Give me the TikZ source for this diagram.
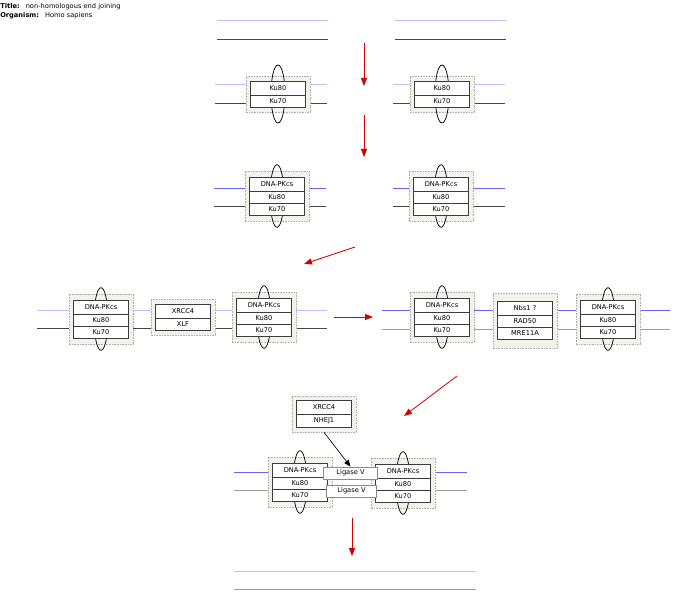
\documentclass[tikz,border=0pt]{standalone}
\usepackage{fontspec}
\setmainfont{DejaVu Sans}
\setsansfont{DejaVu Sans}
\usepackage{tikz}
\usetikzlibrary{arrows.meta,positioning,shapes.geometric,shapes.multipart}
\definecolor{boxfill}{RGB}{243,243,235}
\definecolor{boxline}{RGB}{175,175,170}
\definecolor{protline}{RGB}{60,60,60}
\definecolor{ligline}{RGB}{140,140,140}
\definecolor{paleblue}{RGB}{188,188,255}
\definecolor{midblue}{RGB}{100,100,250}
\definecolor{darkstrand}{RGB}{70,70,70}
\definecolor{greystrand}{RGB}{160,160,160}
\definecolor{stepred}{RGB}{208,0,0}
\tikzset{
  % Komplex-Rahmen
  cplx/.style={draw=boxline, line width=0.5pt, dash pattern=on 1.2pt off 0.8pt, fill=boxfill,
    minimum width=48pt, minimum height=27pt, inner sep=0pt},
  cplxtall/.style={cplx, minimum height=37.5pt},
  ring/.style={draw=black, line width=0.55pt, ellipse, minimum width=10.5pt,
    minimum height=43.5pt, inner sep=0pt},
  ringtall/.style={ring, minimum height=47pt},
  % Proteine
  stack/.style={draw=protline, line width=0.6pt, fill=white, rectangle split,
    rectangle split parts=2, minimum width=41pt, inner xsep=2pt, inner ysep=2.3pt,
    text height=4.2pt, text depth=1.2pt},
  stacktall/.style={stack, rectangle split parts=3},
  ligbox/.style={draw=ligline, line width=0.6pt, fill=white, minimum width=41pt,
    minimum height=9pt, inner sep=0pt},
  % DNA
  topstrand/.style={line width=0.75pt},
  botstrand/.style={line width=0.7pt},
  stepflow/.style={draw=stepred, line width=0.6pt, -{Triangle[length=6pt,width=4.5pt]}},
  bindflow/.style={draw=black, line width=0.5pt, -{Triangle[length=5pt,width=4pt]}}
}
\begin{document}
\begin{tikzpicture}[x=0.75pt, y=-0.75pt, font=\sffamily\fontsize{5}{6}\selectfont]
  \useasboundingbox (0,0) rectangle (681,599);

  \node[anchor=west, inner sep=0pt] (title) at (0,7)
    {\textbf{Title:}\hspace{4.5pt}non-homologous end joining};
  \node[anchor=west, inner sep=0pt] (organism) at (0,16)
    {\textbf{Organism:}\hspace{4.5pt}Homo sapiens};

  % Bruch
  \draw[topstrand, paleblue] (217,21) -- (328,21);
  \draw[botstrand, darkstrand] (217,39) -- (328,39);
  \draw[topstrand, paleblue] (395,21) -- (506,21);
  \draw[botstrand, darkstrand] (395,39) -- (506,39);

  % Ku bindet
  \draw[topstrand, paleblue] (215,85) -- (327,85);
  \draw[botstrand, darkstrand] (215,103) -- (327,103);
  \draw[topstrand, paleblue] (393,85) -- (505,85);
  \draw[botstrand, darkstrand] (393,103) -- (505,103);
  \node[cplx] (kuL) at (278,94) {};
  \node[ring] (kuLring) at (kuL.center) {};
  \node[stack] (kuLs) at (kuL.center) {Ku80\nodepart{two}Ku70};
  \node[cplx] (kuR) at (442,94) {};
  \node[ring] (kuRring) at (kuR.center) {};
  \node[stack] (kuRs) at (kuR.center) {Ku80\nodepart{two}Ku70};

  % DNA-PKcs
  \draw[topstrand, midblue] (214,188) -- (326,188);
  \draw[botstrand, darkstrand] (214,206) -- (326,206);
  \draw[topstrand, midblue] (393,188) -- (505,188);
  \draw[botstrand, darkstrand] (393,206) -- (505,206);
  \node[cplxtall] (pkL) at (277,196) {};
  \node[ringtall] (pkLring) at (pkL.center) {};
  \node[stacktall] (pkLs) at (pkL.center) {DNA-PKcs\nodepart{two}Ku80\nodepart{three}Ku70};
  \node[cplxtall] (pkR) at (441,196) {};
  \node[ringtall] (pkRring) at (pkR.center) {};
  \node[stacktall] (pkRs) at (pkR.center) {DNA-PKcs\nodepart{two}Ku80\nodepart{three}Ku70};

  % Synapse mit XRCC4/XLF
  \draw[topstrand, paleblue] (37,310) -- (327,310);
  \draw[botstrand, darkstrand] (37,328) -- (327,328);
  \node[cplxtall] (synA) at (101,319) {};
  \node[ringtall] (synAring) at (synA.center) {};
  \node[stacktall] (synAs) at (synA.center) {DNA-PKcs\nodepart{two}Ku80\nodepart{three}Ku70};
  \node[cplx] (xlf) at (183,317) {};
  \node[stack] (xlfs) at (xlf.center) {XRCC4\nodepart{two}XLF};
  \node[cplxtall] (synB) at (264,317) {};
  \node[ringtall] (synBring) at (synB.center) {};
  \node[stacktall] (synBs) at (synB.center) {DNA-PKcs\nodepart{two}Ku80\nodepart{three}Ku70};

  % Synapse mit MRN
  \draw[topstrand, midblue] (382,310) -- (670,310);
  \draw[botstrand, greystrand] (382,329) -- (670,329);
  \node[cplxtall] (synC) at (442,317) {};
  \node[ringtall] (synCring) at (synC.center) {};
  \node[stacktall] (synCs) at (synC.center) {DNA-PKcs\nodepart{two}Ku80\nodepart{three}Ku70};
  \node[cplxtall, minimum height=41pt] (mrn) at (525,321) {};
  \node[stacktall] (mrns) at (525,320) {Nbs1 ?\nodepart{two}RAD50\nodepart{three}MRE11A};
  \node[cplxtall] (synD) at (608,319) {};
  \node[ringtall] (synDring) at (synD.center) {};
  \node[stacktall] (synDs) at (synD.center) {DNA-PKcs\nodepart{two}Ku80\nodepart{three}Ku70};

  % Ligation
  \draw[topstrand, midblue] (234,472) -- (467,472);
  \draw[botstrand, greystrand] (234,490) -- (467,490);
  \node[cplx] (xrcc) at (324,414) {};
  \node[stack] (xrccs) at (xrcc.center) {XRCC4\nodepart{two}NHEJ1};
  \node[cplxtall] (ligE) at (300,482) {};
  \node[ringtall] (ligEring) at (ligE.center) {};
  \node[stacktall] (ligEs) at (ligE.center) {DNA-PKcs\nodepart{two}Ku80\nodepart{three}Ku70};
  \node[cplxtall] (ligF) at (403,483) {};
  \node[ringtall] (ligFring) at (ligF.center) {};
  \node[stacktall] (ligFs) at (ligF.center) {DNA-PKcs\nodepart{two}Ku80\nodepart{three}Ku70};
  \node[ligbox] (ligA) at (350.5,473) {Ligase V};
  \node[ligbox, minimum width=38pt] (ligB) at (351.5,491) {Ligase V};
  \draw[bindflow] (xrcc.south) -- (ligA.north);

  % repariert
  \draw[topstrand, paleblue] (234,571) -- (476,571);
  \draw[botstrand, greystrand] (234,589) -- (476,589);

  % Schritte
  \coordinate (s1a) at (364,43);  \coordinate (s1b) at (364,86);
  \coordinate (s2a) at (364,115); \coordinate (s2b) at (364,157);
  \coordinate (s3a) at (355,247); \coordinate (s3b) at (304,264);
  \coordinate (s4a) at (334,317); \coordinate (s4b) at (373,317);
  \coordinate (s5a) at (457,376); \coordinate (s5b) at (404,416);
  \coordinate (s6a) at (352,518); \coordinate (s6b) at (352,556);
  \draw[stepflow] (s1a) -- (s1b);
  \draw[stepflow] (s2a) -- (s2b);
  \draw[stepflow] (s3a) -- (s3b);
  \draw[stepflow] (s4a) -- (s4b);
  \draw[stepflow] (s5a) -- (s5b);
  \draw[stepflow] (s6a) -- (s6b);
\end{tikzpicture}
\end{document}
